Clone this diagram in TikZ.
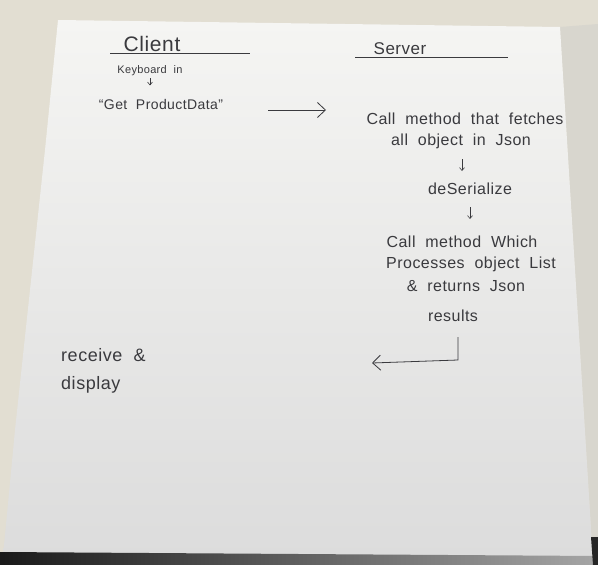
\documentclass[tikz,border=0pt]{standalone}
\usepackage{fontspec}
\setmainfont{Liberation Sans}
\newfontfamily\handfont[LetterSpace=3,WordSpace=2]{Liberation Sans}
\usetikzlibrary{arrows.meta}
\definecolor{ink}{HTML}{3A3A3E}
\definecolor{bgbeige}{HTML}{E2DED2}
\definecolor{papertop}{HTML}{F5F5F3}
\definecolor{paperbot}{HTML}{DCDCDC}
\definecolor{shadeR}{HTML}{D8D6CE}
\begin{document}
\begin{tikzpicture}[x=1pt,y=-1pt,
  hand/.style={text=ink, font=\handfont\fontsize{16}{18}\selectfont, inner sep=0pt, anchor=base},
  small/.style={hand, font=\handfont\fontsize{11}{13}\selectfont},
  title/.style={hand, font=\handfont\fontsize{21}{23}\selectfont},
  uline/.style={draw=ink, line width=0.8pt},
  pen/.style={draw=ink, line width=0.8pt, -{Straight Barb[length=8pt,width=15pt]}},
  tiny/.style={draw=ink, line width=0.6pt, -{Straight Barb[length=3pt,width=5pt]}}]
\useasboundingbox (0,0) rectangle (598,565);
% background
\fill[bgbeige] (0,0) rectangle (598,565);
\fill[shadeR] (560,27) -- (598,24) -- (598,540) -- (592,545) -- cycle;
% paper
\shade[top color=papertop, bottom color=paperbot]
  (58,20) -- (560,27) -- (592,545) -- (592,558) -- (3,556) -- (15,430) -- (45,150) -- cycle;
% bottom dark strip
\shade[left color=black!90, right color=black!35] (0,552) -- (598,556) -- (598,565) -- (0,565) -- cycle;
\fill[black!85] (591,537) -- (598,537) -- (598,565) -- (593,565) -- cycle;

% client column
\node[title] (client) at (152,51) {Client};
\draw[uline] (110,53) -- (250,53);
\node[small] (kbd) at (150,73) {Keyboard in};
\node[hand, font=\handfont\fontsize{14}{16}\selectfont] (get) at (161,109) {“Get ProductData”};
\draw[tiny] (kbd.south) ++(0,3) coordinate (k1) (k1) -- ++(0,7) coordinate (k2);

% server column
\node[title, font=\handfont\fontsize{17}{19}\selectfont] (server) at (400,54) {Server};
\draw[uline] (355,57) -- (508,57);
\node[hand] (call1) at (465,124) {Call method that fetches};
\node[hand] (call1b) at (461,145) {all object in Json};
\node[hand] (deser) at (470,194) {deSerialize};
\node[hand] (call2) at (462,247) {Call method Which};
\node[hand] (call2b) at (471,268) {Processes object List};
\node[hand] (call2c) at (466,291) {\& returns Json};
\node[hand] (res) at (453,321) {results};
\draw[tiny] (462,159) -- (462,171);
\draw[tiny] (470,207) -- (470,219);

% client result
\node[hand, anchor=base west, font=\handfont\fontsize{18}{20}\selectfont] (recv) at (61,361) {receive \&};
\node[hand, anchor=base west, font=\handfont\fontsize{18}{20}\selectfont] (disp) at (61,389) {display};

% request arrow
\coordinate (r1) at (268,110);
\coordinate (r2) at (326,110);
\draw[pen] (r1) -- (r2);

% return arrow
\coordinate (b1) at (458,337);
\coordinate (b2) at (458,360);
\coordinate (b3) at (372,363);
\draw[pen] (b1) -- (b2) -- (b3);
\end{tikzpicture}
\end{document}
